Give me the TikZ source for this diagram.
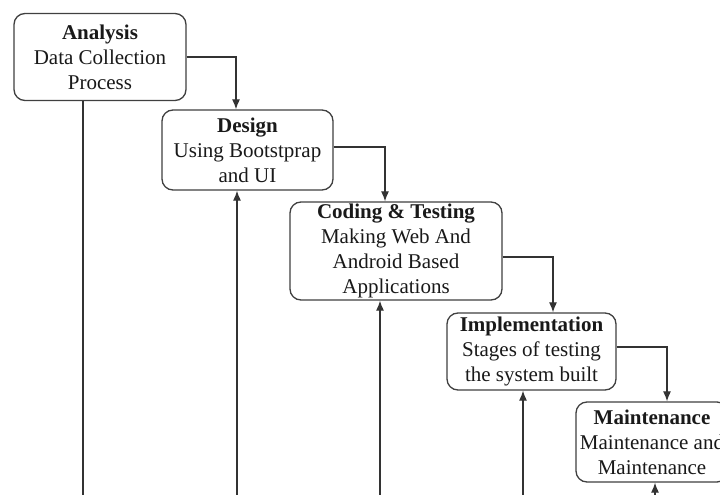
\documentclass[tikz,border=0pt]{standalone}
\usepackage{fontspec}
\setmainfont{Liberation Serif}
\usetikzlibrary{arrows.meta}
\begin{document}
\begin{tikzpicture}[x=1pt,y=-1pt,
  phase/.style={draw=black!75,line width=1.3pt,rounded corners=11pt,align=center,
    inner sep=0pt,font=\fontsize{21}{25}\selectfont,text=black!90},
  arr/.style={draw=black!80,line width=1.2pt,-{Latex[length=10pt,width=8pt]}},
  ln/.style={draw=black!80,line width=1.2pt}]
\clip (0,0) rectangle (720,495);
\fill[white] (0,0) rectangle (720,495);
\node[phase,minimum width=172pt,minimum height=87pt] (an) at (100,57)
  {\textbf{Analysis}\\Data Collection\\Process};
\node[phase,minimum width=171pt,minimum height=80pt] (de) at (247.5,150)
  {\textbf{Design}\\Using Bootstprap\\and UI};
\node[phase,minimum width=212pt,minimum height=98pt] (co) at (396,251)
  {\textbf{Coding \& Testing}\\Making Web And\\Android Based\\Applications};
\node[phase,minimum width=169pt,minimum height=77pt] (im) at (531.5,351.5)
  {\textbf{Implementation}\\Stages of testing\\the system built};
\node[phase,minimum width=152pt,minimum height=80pt] (ma) at (652,442)
  {\textbf{Maintenance}\\Maintenance and\\Maintenance};
\draw[arr] (an.east) -| ([xshift=-11.5pt]de.north);
\draw[arr] ([yshift=3pt]de.east) -| ([xshift=-11pt]co.north);
\draw[arr] ([yshift=-6pt]co.east) -| ([xshift=21.5pt]im.north);
\draw[arr] ([yshift=4.5pt]im.east) -| ([xshift=15pt]ma.north);
\coordinate (b1) at (83,500);
\coordinate (b2) at (237,500);
\coordinate (b3) at (380,500);
\coordinate (b4) at (523,500);
\coordinate (b5) at (655,500);
\draw[ln] (an.south -| b1) -- (b1);
\draw[arr] (b2) -- (b2 |- de.south);
\draw[arr] (b3) -- (b3 |- co.south);
\draw[arr] (b4) -- (b4 |- im.south);
\draw[arr] (b5) -- (b5 |- ma.south);
\end{tikzpicture}
\end{document}
